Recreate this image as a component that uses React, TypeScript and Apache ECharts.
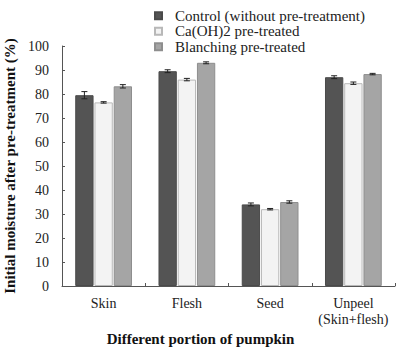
import React, { useEffect, useRef } from "react";
import * as echarts from "echarts";

const categories = ["Skin", "Flesh", "Seed", "Unpeel\n(Skin+flesh)"];
const seriesNames = [
  "Control (without pre-treatment)",
  "Ca(OH)2 pre-treated",
  "Blanching pre-treated",
];
const controlValues = [79.5, 89.5, 34.0, 87.0];
const caohValues = [76.5, 86.0, 32.0, 84.5];
const blanchingValues = [83.2, 93.0, 35.0, 88.3];
const controlErrors = [1.5, 0.6, 0.6, 0.6];
const caohErrors = [0.3, 0.5, 0.3, 0.5];
const blanchingErrors = [0.7, 0.4, 0.5, 0.3];
const yTicks = [0, 10, 20, 30, 40, 50, 60, 70, 80, 90, 100];

const FONT = "Liberation Serif";
const BAR_W = 0.22;
const GAP = 0.05;

export default function App() {
  const ref = useRef<HTMLDivElement>(null);
  useEffect(() => {
    if (!ref.current) return;
    document.body.style.margin = "0";
    const chart = echarts.init(ref.current, undefined, { renderer: "svg" });
    const values = [controlValues, caohValues, blanchingValues];
    const errors = [controlErrors, caohErrors, blanchingErrors];
    const fills = ["#545454", "#f3f3f3", "#a5a5a5"];
    const borders = ["#4a4a4a", "#b8b8b8", "#8e8e8e"];

    const errSeries = values.map((vals, si) => ({
      type: "custom",
      name: "err" + si,
      z: 5,
      silent: true,
      data: vals.map((v, i) => [i, v, errors[si][i]]),
      renderItem: (params: any, api: any) => {
        const idx = api.value(0);
        const v = api.value(1);
        const e = api.value(2);
        const band = api.size([1, 0])[0];
        const w = band * BAR_W;
        const off = (si - 1) * (w + w * GAP);
        const top = api.coord([idx, v + e]);
        const bot = api.coord([idx, v - e]);
        const x = top[0] + off;
        const cap = 3;
        const st = { stroke: "#222", lineWidth: 1 };
        return {
          type: "group",
          children: [
            { type: "line", shape: { x1: x, y1: top[1], x2: x, y2: bot[1] }, style: st },
            { type: "line", shape: { x1: x - cap, y1: top[1], x2: x + cap, y2: top[1] }, style: st },
            { type: "line", shape: { x1: x - cap, y1: bot[1], x2: x + cap, y2: bot[1] }, style: st },
          ],
        };
      },
    }));

    chart.setOption({
      animation: false,
      textStyle: { fontFamily: FONT },
      legend: {
        orient: "vertical",
        left: 149,
        top: 3,
        itemGap: 0,
        itemWidth: 7,
        itemHeight: 7,
        icon: "rect",
        data: seriesNames,
        textStyle: {
          fontFamily: FONT,
          fontSize: 15,
          lineHeight: 15.5,
          color: "#222",
          padding: [0, 0, 0, 8],
        },
      },
      grid: { left: 62, right: 2, top: 46, bottom: 64, outerBoundsMode: "none" },
      xAxis: {
        type: "category",
        data: categories,
        axisLine: { lineStyle: { color: "#555" } },
        axisTick: { show: true, inside: true, length: 3, lineStyle: { color: "#555" } },
        axisLabel: {
          interval: 0,
          fontFamily: FONT,
          fontSize: 14,
          color: "#222",
          margin: 9,
          lineHeight: 16,
        },
        name: "Different portion of pumpkin",
        nameLocation: "middle",
        nameGap: 42,
        nameTextStyle: {
          fontFamily: FONT,
          fontSize: 15,
          fontWeight: "bold",
          color: "#111",
          padding: [0, 56, 0, 0],
        },
      },
      yAxis: {
        type: "value",
        min: 0,
        max: 100,
        interval: 10,
        axisLine: { show: true, lineStyle: { color: "#555" } },
        axisTick: { show: true, inside: true, length: 3, lineStyle: { color: "#555" } },
        splitLine: { show: false },
        axisLabel: {
          fontFamily: FONT,
          fontSize: 14,
          color: "#222",
          margin: 13,
          formatter: (v: number) => (yTicks.includes(v) ? String(v) : ""),
        },
        name: "Initial moisture after pre-treatment (%)",
        nameLocation: "middle",
        nameGap: 44,
        nameTextStyle: { fontFamily: FONT, fontSize: 15, fontWeight: "bold", color: "#111" },
      },
      series: [
        ...values.map((vals, si) => ({
          type: "bar",
          name: seriesNames[si],
          data: vals,
          barWidth: BAR_W * 100 + "%",
          barGap: GAP * 100 + "%",
          itemStyle: { color: fills[si], borderColor: borders[si], borderWidth: 1 },
        })),
        ...errSeries,
      ],
    });
    return () => chart.dispose();
  }, []);
  return (
    <div
      ref={ref}
      style={{ position: "absolute", left: 0, top: 0, width: 397, height: 350 }}
    />
  );
}
